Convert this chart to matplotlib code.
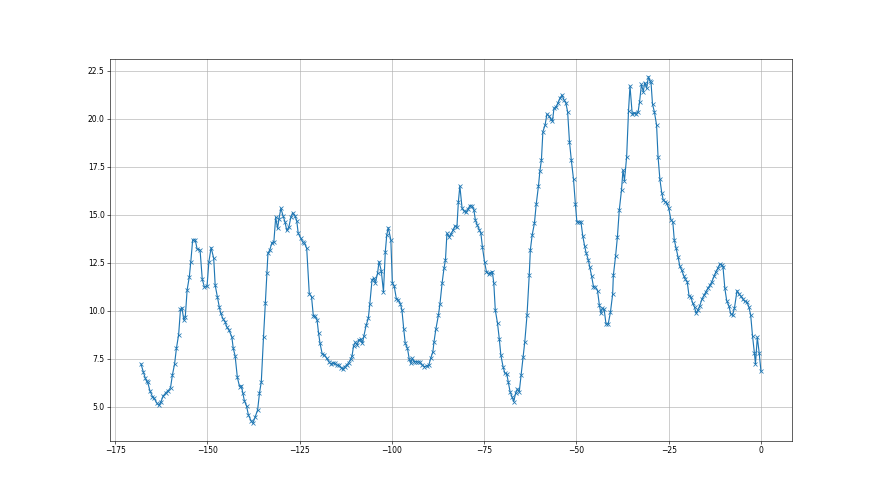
import numpy as np
import matplotlib
matplotlib.use("Agg")
import matplotlib.pyplot as plt

# hours relative to now
hours = [
    -168.0, -167.4, -166.9, -166.5, -166.2, -165.6, -164.9, -164.5, -163.8, -163.2,
    -162.6, -162.0, -161.2, -160.6, -160.0, -159.5, -158.9, -158.4, -157.8, -157.3,
    -156.9, -156.4, -156.0, -155.5, -154.9, -154.5, -154.0, -153.3, -152.8, -152.0,
    -151.4, -150.8, -150.1, -149.6, -149.0, -148.3, -147.9, -147.3, -146.8, -146.4,
    -145.8, -145.2, -144.8, -144.2,
    -143.4, -143.0, -142.5, -141.9, -141.3, -140.8, -140.4, -140.0, -139.4, -138.9,
    -138.2, -137.7, -137.1, -136.4, -135.9, -135.4, -134.8, -134.3, -133.9, -133.6,
    -133.1, -132.5, -132.0, -131.5, -131.0, -130.6, -130.1, -129.5, -129.0, -128.5,
    -127.9, -127.4, -126.9, -126.3, -125.8, -125.4, -124.7, -124.2, -123.7, -123.1,
    -122.4, -121.8, -121.3, -120.8, -120.3, -119.9, -119.5,
    -118.9, -118.3, -117.7, -117.1, -116.6, -116.0, -115.5, -114.9, -114.3, -113.8,
    -113.3, -112.8, -112.3, -111.7, -111.2, -110.8, -110.4, -109.9, -109.4, -109.0,
    -108.5, -108.0, -107.6, -107.0, -106.4, -106.0, -105.4, -105.0, -104.5, -103.9,
    -103.5, -102.9, -102.3, -101.8, -101.4, -101.0, -100.3, -99.9, -99.4, -98.8,
    -98.3, -97.7, -97.3, -96.8, -96.4, -95.8, -95.3,
    -94.9, -94.5, -94.0, -93.4, -92.9, -92.4, -91.9, -91.2, -90.6, -90.0,
    -89.5, -88.9, -88.6, -88.1, -87.4, -87.0, -86.4, -85.9, -85.5, -85.1,
    -84.5, -84.0, -83.5, -82.9, -82.4, -82.0, -81.6, -81.0, -80.5, -80.0,
    -79.4, -78.9, -78.3, -77.8, -77.4, -76.9, -76.3, -75.9, -75.5, -74.9,
    -74.4, -73.8, -73.3, -72.8, -72.4, -72.0, -71.4, -70.9,
    -70.5, -69.9, -69.4, -68.9, -68.5, -68.0, -67.5, -67.0, -66.5, -66.0,
    -65.5, -65.0, -64.5, -64.0, -63.4, -62.8, -62.5, -62.0, -61.4, -60.9,
    -60.3, -59.9, -59.5, -59.1, -58.5, -58.0, -57.4, -56.9, -56.5, -56.1,
    -55.5, -55.0, -54.5, -53.9, -53.4, -52.9, -52.4, -51.9, -51.4, -50.8,
    -50.3, -49.9, -49.3, -48.8, -48.3, -47.8, -47.4, -46.8, -46.4,
    -45.9, -45.4, -44.9, -44.3, -43.8, -43.4, -43.0, -42.5, -42.0, -41.4,
    -40.8, -40.2, -40.0, -39.4, -38.9, -38.4, -37.8, -37.4, -37.0, -36.4,
    -35.9, -35.5, -34.9, -34.4, -33.9, -33.3, -32.9, -32.4, -31.9, -31.5,
    -31.0, -30.5, -30.1, -29.8, -29.4, -28.9, -28.3, -27.9, -27.4, -26.9,
    -26.5, -26.0, -25.5, -25.0, -24.4, -23.9, -23.5, -23.0, -22.5, -22.0,
    -21.5, -20.9, -20.5, -20.0, -19.5, -19.0, -18.5, -18.0, -17.6,
    -17.1, -16.6, -16.0, -15.4, -14.9, -14.4, -13.8, -13.3, -12.7, -12.2,
    -11.7, -11.2, -10.6, -10.3, -9.8, -9.3, -8.7, -8.2, -7.7, -7.2,
    -6.5, -6.0, -5.5, -4.9, -4.4, -3.8, -3.3, -2.8, -2.3, -1.8,
    -1.5, -1.0, -0.5, 0.0,
]

temps = [
    7.24, 6.84, 6.53, 6.34, 6.30, 5.85, 5.54, 5.48, 5.22, 5.09,
    5.26, 5.57, 5.75, 5.85, 6.00, 6.65, 7.24, 8.05, 8.77, 10.09,
    10.16, 9.53, 9.69, 11.09, 11.79, 12.57, 13.70, 13.70, 13.23, 13.18,
    11.65, 11.23, 11.30, 12.57, 13.30, 12.74, 11.34, 10.74, 10.22, 9.88,
    9.60, 9.44, 9.18, 9.01,
    8.66, 8.05, 7.66, 6.55, 6.06, 6.10, 5.71, 5.33, 5.05, 4.58,
    4.29, 4.15, 4.46, 4.84, 5.71, 6.32, 8.66, 10.43, 11.96, 13.00,
    13.18, 13.56, 13.60, 14.88, 14.30, 14.80, 15.35, 14.95, 14.65, 14.19,
    14.39, 14.88, 15.12, 14.95, 14.70, 14.04, 13.78, 13.60, 13.52, 13.26,
    10.89, 10.75, 9.74, 9.71, 9.53, 8.87, 8.32,
    7.76, 7.71, 7.53, 7.36, 7.24, 7.30, 7.27, 7.17, 7.17, 7.05,
    6.96, 7.10, 7.17, 7.31, 7.48, 7.67, 8.19, 8.37, 8.23, 8.49,
    8.52, 8.31, 8.70, 9.25, 9.62, 10.36, 11.61, 11.70, 11.47, 11.96,
    12.57, 12.10, 10.99, 13.09, 13.96, 14.34, 13.70, 11.47, 11.30, 10.63,
    10.58, 10.36, 10.05, 9.04, 8.32, 8.05, 7.48,
    7.27, 7.53, 7.36, 7.36, 7.34, 7.34, 7.19, 7.10, 7.13, 7.19,
    7.53, 7.88, 8.40, 9.05, 9.79, 10.35, 11.47, 12.22, 12.66, 14.04,
    13.85, 14.01, 14.19, 14.43, 14.35, 15.69, 16.51, 15.35, 15.21, 15.13,
    15.29, 15.49, 15.47, 15.26, 14.74, 14.48, 14.22, 14.04, 13.35, 12.54,
    12.05, 11.93, 12.00, 12.05, 11.44, 10.05, 9.36, 8.52,
    7.71, 7.10, 6.75, 6.73, 6.32, 5.80, 5.54, 5.28, 5.71, 5.93,
    5.80, 6.67, 7.59, 8.40, 9.79, 11.87, 13.18, 13.96, 14.56, 15.57,
    16.51, 17.31, 17.86, 19.34, 19.69, 20.26, 20.14, 19.98, 19.90, 20.55,
    20.64, 20.84, 21.07, 21.25, 21.00, 20.84, 20.38, 18.82, 17.86, 16.86,
    15.57, 14.65, 14.62, 14.65, 13.91, 13.39, 13.04, 12.66, 12.28,
    11.82, 11.27, 11.24, 11.06, 10.31, 9.88, 10.13, 10.08, 9.32, 9.32,
    9.93, 10.87, 11.87, 12.86, 13.87, 15.26, 16.30, 17.34, 16.79, 18.04,
    20.42, 21.72, 20.26, 20.32, 20.28, 20.37, 20.90, 21.80, 21.42, 21.89,
    21.60, 22.20, 22.00, 21.90, 20.77, 20.38, 19.69, 18.04, 16.86, 16.16,
    15.78, 15.70, 15.60, 15.35, 14.74, 14.65, 13.70, 13.26, 12.83, 12.34,
    12.13, 11.82, 11.65, 11.53, 10.78, 10.72, 10.40, 10.19, 9.88,
    10.05, 10.26, 10.61, 10.83, 11.00, 11.18, 11.35, 11.53, 11.82, 12.05,
    12.22, 12.43, 12.40, 12.30, 11.18, 10.54, 10.26, 9.84, 9.79, 10.14,
    11.06, 10.88, 10.78, 10.61, 10.50, 10.45, 10.22, 9.79, 8.70, 7.83,
    7.24, 8.63, 7.83, 6.85,
]

fig, ax = plt.subplots(figsize=(16, 9), dpi=55)
ax.plot(hours, temps, marker='x')
ax.grid(True)

plt.savefig("out.png", dpi=55)
